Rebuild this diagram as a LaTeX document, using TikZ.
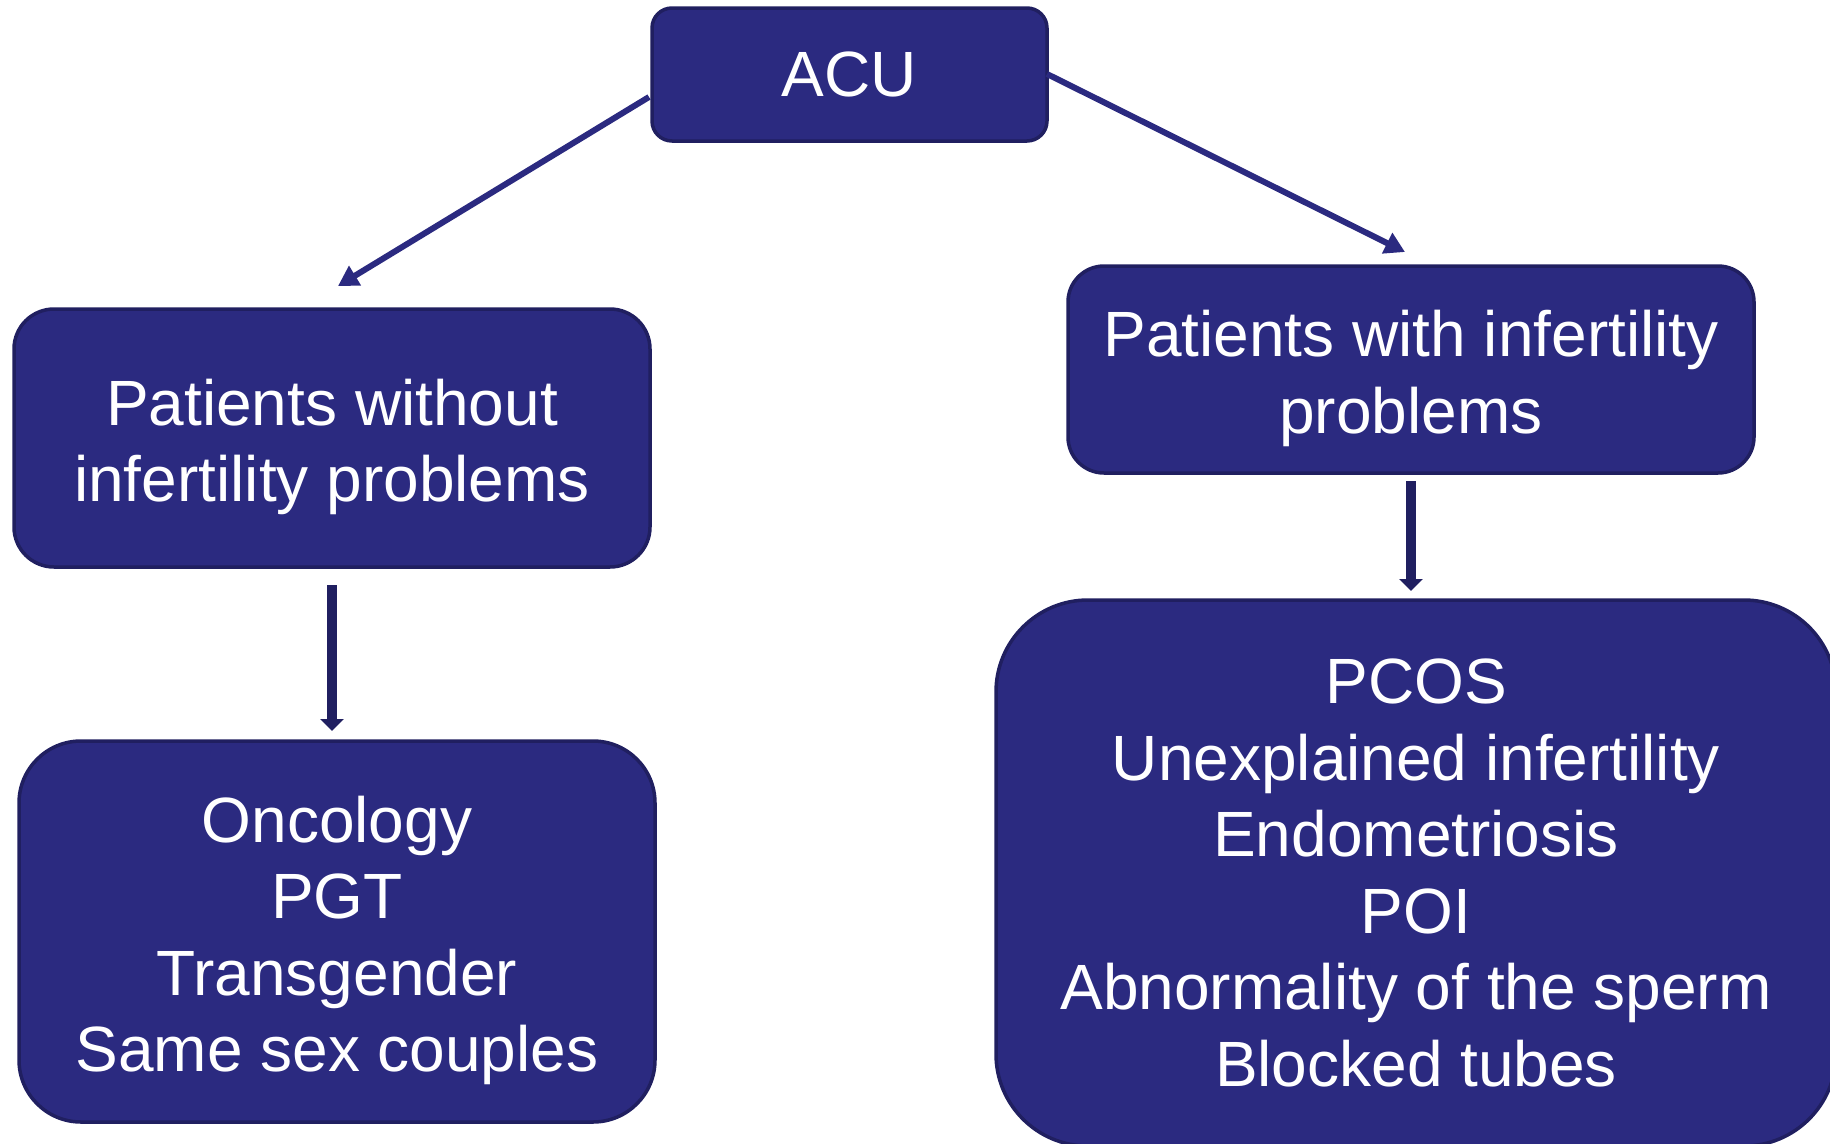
\documentclass[tikz,border=0pt]{standalone}
\usepackage{fontspec}
\setmainfont{Liberation Sans}
\usetikzlibrary{arrows.meta}
\definecolor{boxfill}{RGB}{43,42,128}
\definecolor{boxline}{RGB}{32,31,96}
\begin{document}
\begin{tikzpicture}[x=1pt,y=-1pt,
  box/.style={draw=boxline, fill=boxfill, line width=3.5pt, text=white, align=center, inner sep=0pt,
    font=\fontsize{64}{76.5}\selectfont},
  boxtext/.style={text=white, align=center, inner sep=0pt, font=\fontsize{64}{76.5}\selectfont, yshift=-9pt},
  conn/.style={draw=boxfill, line width=6pt, -{Triangle[width=22pt,length=20pt]}},
  vconn/.style={draw=boxline, line width=10pt, -{Triangle[width=23pt,length=12pt]}}]
\useasboundingbox (0,0) rectangle (1830,1143);
\clip (0,0) rectangle (1830,1143);
\node[box, minimum width=395pt, minimum height=133pt, rounded corners=20pt] (acu) at (849.5,74.5) {ACU};
\node[box, minimum width=636pt, minimum height=258pt, rounded corners=40pt,
  label={[boxtext]center:Patients without\\infertility problems}] (without) at (332,438) {};
\node[box, minimum width=686pt, minimum height=207pt, rounded corners=36pt,
  label={[boxtext]center:Patients with infertility\\problems}] (with) at (1411,369.5) {};
\node[box, minimum width=636pt, minimum height=381pt, rounded corners=62pt,
  label={[boxtext]center:Oncology\\PGT\\Transgender\\Same sex couples}] (lb) at (337,931.5) {};
\node[box, minimum width=840pt, minimum height=546pt, rounded corners=92pt] (rb) at (1416,873) {PCOS\\Unexplained infertility\\Endometriosis\\POI\\Abnormality of the sperm\\Blocked tubes};
\coordinate (s1) at (649,97);
\coordinate (t1) at (338,286);
\coordinate (s2) at (1047,74);
\coordinate (t2) at (1405,252);
\coordinate (s3) at (332,585);
\coordinate (t3) at (332,731);
\coordinate (s4) at (1411,481);
\coordinate (t4) at (1411,591);
\draw[conn] (s1) -- (t1);
\draw[conn] (s2) -- (t2);
\draw[vconn] (s3) -- (t3);
\draw[vconn] (s4) -- (t4);
\end{tikzpicture}
\end{document}
